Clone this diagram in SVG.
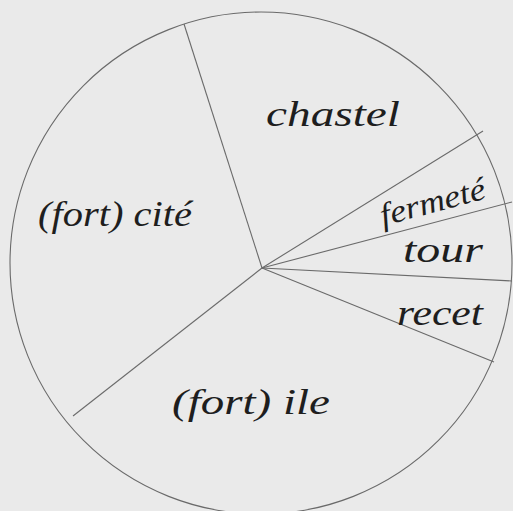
<svg xmlns="http://www.w3.org/2000/svg" width="513" height="511" viewBox="0 0 513 511">
<style>
.ln{stroke:#6a6a6a;stroke-width:1.1;fill:none}
.lb{font-family:"Liberation Serif",serif;font-style:italic;fill:#1e1e1e;font-size:35px}
</style>
<rect width="513" height="511" fill="#eaeaea"/>
<g id="connectors">
<ellipse class="ln" cx="261" cy="263" rx="251" ry="251"/>
<line class="ln" x1="262" y1="268" x2="184" y2="24"/>
<line class="ln" x1="262" y1="268" x2="483" y2="131"/>
<line class="ln" x1="262" y1="268" x2="512" y2="202"/>
<line class="ln" x1="262" y1="268" x2="512" y2="281"/>
<line class="ln" x1="262" y1="268" x2="494" y2="362"/>
<line class="ln" x1="262" y1="268" x2="73" y2="416"/>
</g>
<g id="chastel"><text class="lb" x="266" y="126" textLength="134" lengthAdjust="spacingAndGlyphs">chastel</text></g>
<g id="cite"><text class="lb" x="38" y="226" textLength="154" lengthAdjust="spacingAndGlyphs">(fort) cité</text></g>
<g id="fermete"><text class="lb" x="383" y="226" textLength="108" lengthAdjust="spacingAndGlyphs" transform="rotate(-15 383 226)" style="font-size:32px">fermeté</text></g>
<g id="tour"><text class="lb" x="403" y="262" textLength="80" lengthAdjust="spacingAndGlyphs">tour</text></g>
<g id="recet"><text class="lb" x="397" y="325" textLength="86" lengthAdjust="spacingAndGlyphs">recet</text></g>
<g id="ile"><text class="lb" x="172" y="414" textLength="158" lengthAdjust="spacingAndGlyphs">(fort) ile</text></g>
</svg>
